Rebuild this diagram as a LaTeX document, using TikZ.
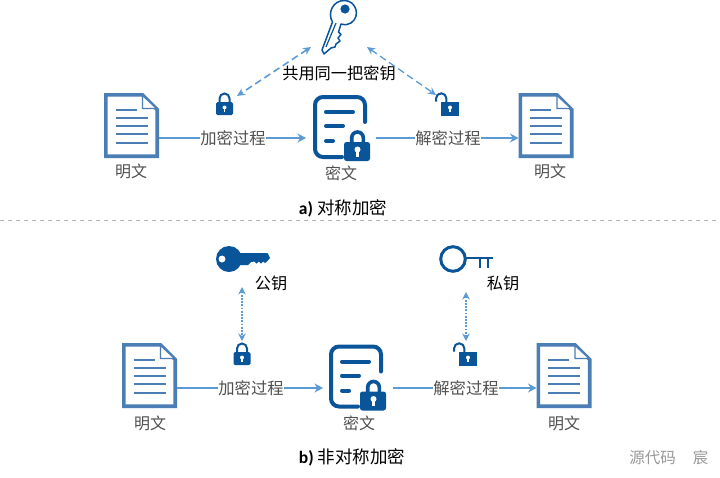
\documentclass[tikz,border=0pt]{standalone}
\usepackage{fontspec}
\setmainfont{Noto Sans CJK SC}
\newfontfamily\latinb{Carlito}[BoldFont={Carlito Bold}]
\usetikzlibrary{arrows.meta}
\definecolor{docblue}{HTML}{4A7EB5}
\definecolor{navy}{HTML}{0A5599}
\definecolor{flowblue}{HTML}{5B9BD5}
\definecolor{labgray}{HTML}{505050}
\definecolor{markgray}{HTML}{999999}
\tikzset{
  x=1pt,y=-1pt,
  docbox/.style={inner sep=0pt,outer sep=0pt,minimum width=55pt,minimum height=65pt},
  cipherbox/.style={inner sep=0pt,outer sep=0pt,minimum width=54pt,minimum height=64pt},
  lockbox/.style={inner sep=0pt,outer sep=0pt,minimum width=18pt,minimum height=22pt},
  keybox/.style={inner sep=0pt,outer sep=0pt,minimum width=36pt,minimum height=36pt},
  flow/.style={draw=flowblue,line width=2pt},
  flowtip/.style={flow,-{Stealth[length=8.5pt,width=9pt]}},
  dashlink/.style={draw=flowblue,line width=1.6pt,dash pattern=on 7pt off 4pt,{Stealth[length=8pt,width=7.5pt]}-{Stealth[length=8pt,width=7.5pt]}},
  dotlink/.style={draw=flowblue,line width=1.6pt,dash pattern=on 1.7pt off 1.5pt,{Stealth[length=7.5pt,width=7.5pt]}-{Stealth[length=7.5pt,width=7.5pt]}},
  steplabel/.style={fill=white,inner sep=0.3pt,text=labgray,font=\fontsize{16.3}{17}\selectfont},
  captext/.style={inner sep=0pt,text=labgray,font=\fontsize{16}{17}\selectfont},
  keytext/.style={inner sep=0pt,text=black,font=\fontsize{16.2}{17}\selectfont},
  headtext/.style={inner sep=0pt,text=black,font=\fontsize{17.5}{18}\selectfont},
  markstyle/.style={inner sep=0pt,text=markgray,font=\fontsize{15.5}{16}\selectfont},
  docicon/.pic={
    \draw[docblue,line width=3.6pt,fill=white,line join=miter]
      (-25.7,-30.7) -- (11,-30.7) -- (25.7,-16) -- (25.7,30.7) -- (-25.7,30.7) -- cycle;
    \draw[docblue,line width=1.2pt,fill=white] (11,-30) -- (11,-17) -- (25,-17) -- cycle;
    \draw[docblue,line width=2pt] (-16,-15.5) -- (5,-15.5);
    \foreach \yy in {-7.5,0.5,8.5,17}{\draw[docblue,line width=2pt] (-16,\yy) -- (16,\yy);}
  },
  ciphericon/.pic={
    \draw[navy,line width=4pt,line cap=round,rounded corners=8pt]
      (25,-5) -- (25,-30) -- (-25,-30) -- (-25,30) -- (2,30);
    \draw[navy,line width=4pt,line cap=round] (-14,-15) -- (13,-15);
    \draw[navy,line width=4pt,line cap=round] (-14,-1) -- (3,-1);
    \draw[navy,line width=4pt,line cap=round] (-14,14) -- (-7,14);
    \draw[navy,line width=3.6pt] (11.7,16) -- (11.7,10.8) arc[start angle=180,end angle=0,radius=5.8pt] -- (23.3,16);
    \fill[navy,rounded corners=2.5pt] (4,15) rectangle (30,34);
    \fill[white] (17.5,22.5) circle[radius=3pt];
    \fill[white] (16.2,23) rectangle (18.8,29.5);
  },
  lockicon/.pic={
    \draw[navy,line width=2pt] (-5,0) -- (-5,-5.5) arc[start angle=180,end angle=0,radius=5pt] -- (5,0);
    \fill[navy,rounded corners=1.5pt] (-8.5,-2) rectangle (8.5,11);
    \fill[white] (0,3.5) circle[radius=2pt];
    \fill[white] (-0.8,3.5) rectangle (0.8,7.5);
  },
  openlockicon/.pic={
    \draw[navy,line width=2pt] (-10,-2.5) -- (-10,-5.5) arc[start angle=180,end angle=0,radius=5.2pt] -- (0.4,0);
    \fill[navy] (-5,-2) rectangle (13,11.5);
    \fill[white] (4,3.5) circle[radius=2pt];
    \fill[white] (3.2,3.5) rectangle (4.8,7.5);
  },
}
\begin{document}
\begin{tikzpicture}
\useasboundingbox (0,0) rectangle (720,477);
\fill[white] (0,0) rectangle (720,477);

% --- top: symmetric
\node[docbox] (doc1) at (131.5,125.5) {};
\node[cipherbox] (cipher1) at (340,127) {};
\node[docbox] (doc2) at (546,125.5) {};
\node[lockbox] (lock1) at (224.5,104) {};
\node[lockbox] (lock2) at (446,104) {};
\node[keybox] (key1) at (339,27) {};
\pic at (doc1) {docicon};
\pic at (cipher1) {ciphericon};
\pic at (doc2) {docicon};
\pic at (lock1) {lockicon};
\pic at (lock2) {openlockicon};
% outlined key
\begin{scope}[shift={(key1.center)}]
  \draw[navy,line width=1.5pt,line join=round,fill=white]
    (-17,23) -- (-6.5,-5) .. controls (-12,-14) and (-6,-27) .. (6,-26.5)
    .. controls (17,-26) and (22,-11) .. (12,-4) .. controls (9,-2) and (6,-2) .. (2,-3)
    -- (-0.5,5) -- (2,7.5) -- (-1,11) -- (1,14) -- (-3,17) -- (-4,20) -- (-8,21) -- (-15,27) -- cycle;
  \draw[navy,line width=1.2pt] (-13,20) -- (-3,-4);
  \fill[navy] (6,-18) circle[radius=4.6pt];
\end{scope}
\node[keytext] (share) at (339,73) {共用同一把密钥};
\coordinate (keyL) at (311,47);
\coordinate (keyR) at (367,47);
\coordinate (lockLtop) at (237,96);
\coordinate (lockRtop) at (436,95);
\draw[dashlink] (keyL) -- (lockLtop);
\draw[dashlink,line width=1.3pt] (keyR) -- (lockRtop);
\node[steplabel] (lab1) at (233,138) {加密过程};
\node[steplabel] (lab2) at (448,138) {解密过程};
\draw[flow] (doc1.east|-lab1) -- (lab1.west);
\draw[flowtip,shorten >=7pt] (lab1.east) -- (cipher1.west|-lab1);
\draw[flow,shorten <=9pt] (cipher1.east|-lab2) -- (lab2.west);
\draw[flowtip] (lab2.east) -- (doc2.west|-lab2);
\node[captext] (t1) at (131,171.5) {明文};
\node[captext] (t2) at (341,173.5) {密文};
\node[captext] (t3) at (550,171.5) {明文};
\node[headtext] (head1) at (343,208.5) {{\latinb\bfseries a)} 对称加密};

% --- divider
\coordinate (divL) at (0,220);
\coordinate (divR) at (720,220);
\draw[draw=black!30,line width=0.8pt,dash pattern=on 4pt off 4pt] (divL) -- (divR);

% --- bottom: asymmetric
\node[docbox] (doc3) at (149.5,375.5) {};
\node[cipherbox] (cipher2) at (356,376.5) {};
\node[docbox] (doc4) at (564,375.5) {};
\node[lockbox] (lock3) at (242,354) {};
\node[lockbox] (lock4) at (464,354) {};
\node[keybox,minimum width=54pt,minimum height=26pt] (key2) at (243,259) {};
\node[keybox,minimum width=54pt,minimum height=28pt] (key3) at (466,259) {};
\pic at (doc3) {docicon};
\pic at (cipher2) {ciphericon};
\pic at (doc4) {docicon};
\pic at (lock3) {lockicon};
\pic at (lock4) {openlockicon};
% filled key
\begin{scope}[shift={(key2.center)}]
  \fill[navy,even odd rule] (-14,0) circle[radius=13pt] (-21,0) circle[radius=3.6pt];
  \fill[navy] (-4,-6) -- (24.5,-6) -- (27,-1) -- (24,2.5) -- (22,4) -- (20,2.5) -- (18,4.5) -- (16,2.5) -- (13.5,4.5) -- (11.5,2.5) -- (8,3) -- (5,6) -- (-4,6) -- cycle;
\end{scope}
% outlined key
\begin{scope}[shift={(key3.center)}]
  \draw[navy,line width=3pt] (-13,0) circle[radius=12.3pt];
  \draw[navy,line width=2.6pt] (-1,-1) -- (27,-1);
  \draw[navy,line width=2.6pt] (14,-1) -- (14,9);
  \draw[navy,line width=2.6pt] (22,-1) -- (22,9);
\end{scope}
\node[keytext] (pub) at (271,283) {公钥};
\node[keytext] (priv) at (503,283) {私钥};
\coordinate (pubB) at (242,287);
\coordinate (lock3t) at (242,341);
\coordinate (privB) at (466,292);
\coordinate (lock4t) at (466,341);
\draw[dotlink] (pubB) -- (lock3t);
\draw[dotlink] (privB) -- (lock4t);
\node[steplabel] (lab3) at (251,388) {加密过程};
\node[steplabel] (lab4) at (466,388) {解密过程};
\draw[flow] (doc3.east|-lab3) -- (lab3.west);
\draw[flowtip,shorten >=6pt] (lab3.east) -- (cipher2.west|-lab3);
\draw[flow,shorten <=10pt] (cipher2.east|-lab4) -- (lab4.west);
\draw[flowtip] (lab4.east) -- (doc4.west|-lab4);
\node[captext] (t4) at (150,423.5) {明文};
\node[captext] (t5) at (359,423.5) {密文};
\node[captext] (t6) at (564,423.5) {明文};
\node[headtext] (head2) at (352,457.5) {{\latinb\bfseries b)} 非对称加密};
\node[markstyle] (mark1) at (652.5,458) {源代码};
\node[markstyle] (mark2) at (700.5,458) {宸};
\end{tikzpicture}
\end{document}
